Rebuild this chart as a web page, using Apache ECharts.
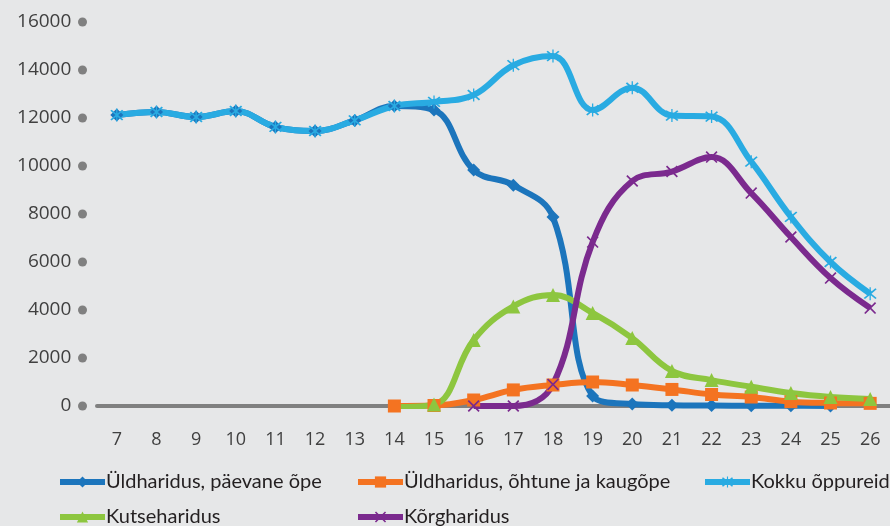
<!DOCTYPE html>
<html>
<head>
<meta charset="utf-8">
<script src="https://cdn.jsdelivr.net/npm/echarts@6/dist/echarts.min.js"></script>
<style>
  html, body { margin: 0; padding: 0; background: #e6e7e8; }
  #chart { width: 890px; height: 526px; }
</style>
</head>
<body>
<div id="chart"></div>
<script>
// vanus
const ages = ['7','8','9','10','11','12','13','14','15','16','17','18','19','20','21','22','23','24','25','26'];

const paevane = [12120,12250,12040,12290,11630,11460,11900,12500,12330,9830,9200,7870,420,80,30,20,10,10,0,null];
const ohtune  = [null,null,null,null,null,null,null,0,20,250,670,875,1000,875,690,480,375,180,125,110];
const kokku   = [12120,12250,12040,12290,11630,11460,11900,12500,12670,12960,14200,14580,12330,13260,12100,12060,10180,7880,6000,4680];
const kutse   = [null,null,null,null,null,null,null,-40,60,2750,4150,4625,3880,2830,1460,1080,800,540,375,290];
const korg    = [null,null,null,null,null,null,null,null,null,0,0,900,6830,9375,9770,10370,8870,7040,5330,4080];

const names = ['Üldharidus, päevane õpe','Üldharidus, õhtune ja kaugõpe','Kokku õppureid','Kutseharidus','Kõrgharidus'];
const colors = ['#1c75bc','#f47321','#29abe2','#8dc63f','#7b2a8e'];

const xMark = 'path://M0,2L2,0L10,8L18,0L20,2L12,10L20,18L18,20L10,12L2,20L0,18L8,10Z';
const starMark = 'path://M0,2L2,0L10,8L18,0L20,2L12,10L20,18L18,20L10,12L2,20L0,18L8,10ZM9,-2L11,-2L11,22L9,22Z';

const chart = echarts.init(document.getElementById('chart'));
const font = 'Open Sans';

function line(i, data, symbol, size) {
  return {
    name: names[i], type: 'line', data: data, smooth: 0.4,
    symbol: symbol, symbolSize: size, connectNulls: false,
    lineStyle: { width: 6, color: colors[i] },
    itemStyle: { color: colors[i] },
    emphasis: { disabled: true }
  };
}

// one legend per item so the two rows line up in columns
const legendPos = [[52, 467], [350, 467], [697, 467], [52, 502], [350, 502]];
const legends = names.map((n, i) => ({
  left: legendPos[i][0], top: legendPos[i][1],
  itemWidth: 45, itemHeight: 14, itemGap: 4, selectedMode: false,
  data: [n], lineStyle: { width: 6 },
  textStyle: { fontFamily: 'Lato', fontSize: 20, color: '#231f20', padding: [0, 0, 0, -4] }
}));

chart.setOption({
  backgroundColor: '#e6e7e8',
  animation: false,
  color: colors,
  grid: { left: 97, right: 0, top: 22, bottom: 120 },
  xAxis: {
    type: 'category', data: ages, boundaryGap: true,
    axisLine: { lineStyle: { color: '#808080', width: 4 } },
    axisTick: { show: false },
    axisLabel: { fontFamily: font, fontSize: 18, color: '#404040', margin: 25 }
  },
  yAxis: {
    type: 'value', min: 0, max: 16000, interval: 2000,
    splitLine: { show: false }, axisLine: { show: false }, axisTick: { show: false },
    axisLabel: {
      margin: 10,
      formatter: v => '{v|' + v + '}  {d|}',
      rich: {
        v: { fontFamily: font, fontSize: 19, color: '#404040' },
        d: { width: 9, height: 9, borderRadius: 5, backgroundColor: '#808080' }
      }
    }
  },
  legend: legends,
  series: [
    line(0, paevane, 'diamond', 13),
    line(1, ohtune, 'rect', 13),
    line(2, kokku, starMark, 13),
    line(3, kutse, 'triangle', 14),
    line(4, korg, xMark, 12)
  ]
});
</script>
</body>
</html>
